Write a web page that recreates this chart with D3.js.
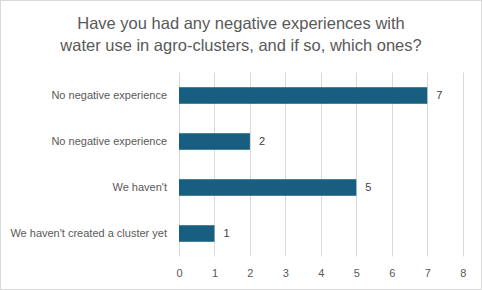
<!DOCTYPE html>
<html><head><meta charset="utf-8">
<script src="https://cdn.jsdelivr.net/npm/d3@7"></script>
<style>body{margin:0;background:#fff}svg{display:block}</style>
</head><body><svg id="c" width="482" height="290"></svg>
<script>
const categories = ["No negative experience","No negative experience","We haven't ","We haven't created a cluster yet"];
const values = [7,2,5,1];
const xTicks = [0,1,2,3,4,5,6,7,8];
const titleLines = ["Have you had any negative experiences with","water use in agro-clusters, and if so, which ones?"];

const svg = d3.select("#c");
const W=482,H=290;
const font = "'Liberation Sans', Arial, sans-serif";
svg.append("rect").attr("x",0.5).attr("y",0.5).attr("width",W-1).attr("height",H-1).attr("fill","#fff").attr("stroke","#d9d9d9");

svg.append("g").selectAll("text").data(titleLines).join("text")
  .attr("x",W/2).attr("y",(d,i)=>28.5+i*22).attr("text-anchor","middle")
  .attr("font-family",font).attr("font-size",16.5).attr("fill","#595959").text(d=>d);

const x = d3.scaleLinear().domain([0,8]).range([179,462.7]);
const y = d3.scaleBand().domain(d3.range(categories.length)).range([72.5,256.5]).paddingInner(0.64).paddingOuter(0.32);

const grid = svg.append("g");
grid.selectAll("line").data(xTicks).join("line")
  .attr("x1",d=>Math.round(x(d))+0.5).attr("x2",d=>Math.round(x(d))+0.5)
  .attr("y1",72.5).attr("y2",256.5).attr("stroke","#d9d9d9").attr("stroke-width",1);

const xAxis = d3.axisBottom(x).tickValues(xTicks).tickSize(0).tickPadding(0);
const gx = svg.append("g").attr("transform","translate(0,269)").call(xAxis);
gx.select(".domain").remove();
gx.selectAll("text").attr("font-family",font).attr("font-size",11).attr("fill","#595959").attr("dy","0.71em");

const yAxis = d3.axisLeft(y).tickFormat(i=>categories[i]).tickSize(0).tickPadding(0);
const gy = svg.append("g").attr("transform","translate(167,0)").call(yAxis);
gy.select(".domain").remove();
gy.selectAll("text").attr("font-family",font).attr("font-size",11).attr("fill","#595959");

svg.append("g").selectAll("rect").data(values).join("rect")
  .attr("x",x(0)).attr("y",(d,i)=>y(i)).attr("width",d=>x(d)-x(0)).attr("height",y.bandwidth())
  .attr("fill","#175e81");

svg.append("g").selectAll("text").data(values).join("text")
  .attr("x",d=>x(d)+9).attr("y",(d,i)=>y(i)+y.bandwidth()/2).attr("dy","0.35em")
  .attr("font-family",font).attr("font-size",11).attr("fill","#404040").text(d=>d);
</script></body></html>
